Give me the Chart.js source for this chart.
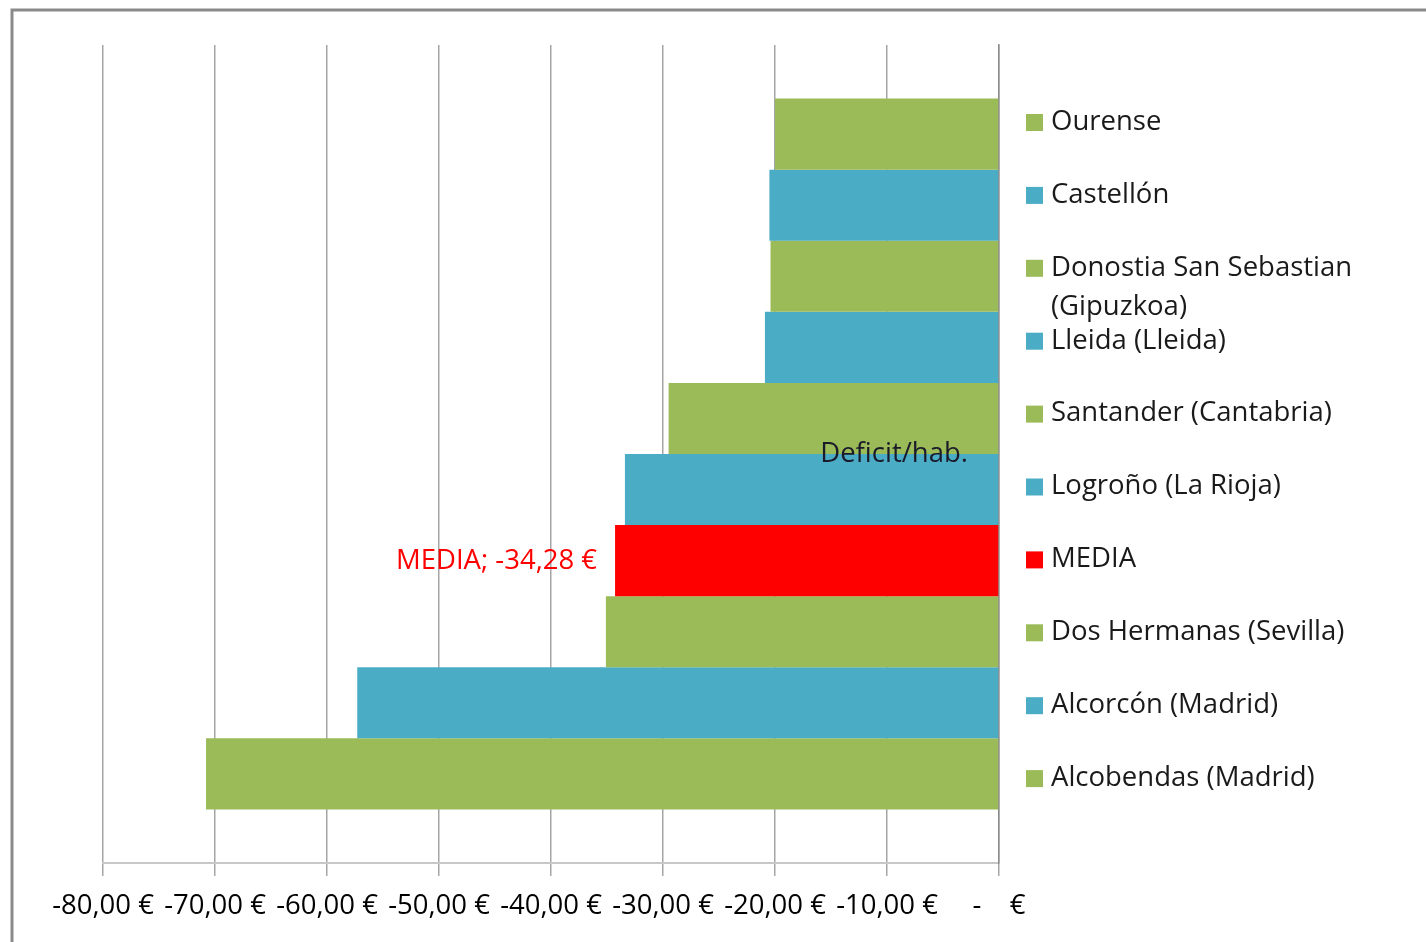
<!DOCTYPE html>
<html>
<head>
<meta charset="utf-8">
<script src="https://cdn.jsdelivr.net/npm/chart.js@4.4.1/dist/chart.umd.min.js"></script>
<style>
  html, body { margin: 0; padding: 0; background: #fff; }
  canvas { display: block; }
</style>
</head>
<body>
<canvas id="myGraphic" width="1426" height="942"></canvas>
<script>
// Datos del gráfico (déficit por habitante, en euros)
var ciudades = ['Ourense', 'Castellón', 'Donostia San Sebastian\n(Gipuzkoa)', 'Lleida (Lleida)',
    'Santander (Cantabria)', 'Logroño (La Rioja)', 'MEDIA', 'Dos Hermanas (Sevilla)',
    'Alcorcón (Madrid)', 'Alcobendas (Madrid)'];
var valores = [-20.0, -20.5, -20.4, -20.9, -29.5, -33.4, -34.28, -35.1, -57.3, -70.8];
var colores = ['#9BBB59', '#4BACC6', '#9BBB59', '#4BACC6', '#9BBB59', '#4BACC6', '#FF0000',
    '#9BBB59', '#4BACC6', '#9BBB59'];
var categorias = ['Deficit/hab.'];
var ejeMin = -80, ejeMax = 0, paso = 10;

var fuente = "'Open Sans', 'DejaVu Sans', sans-serif";
var tam = 27.5;

function euros(v) {
    if (v === 0) return '-    €';
    return v.toFixed(2).replace('.', ',') + ' €';
}

// Marco gris alrededor del gráfico
var marco = {
    id: 'marco',
    beforeDraw: function (chart) {
        var c = chart.ctx;
        c.save();
        c.strokeStyle = '#8a8a8a';
        c.lineWidth = 3;
        c.beginPath();
        c.moveTo(12, 942);
        c.lineTo(12, 10);
        c.lineTo(1426, 10);
        c.stroke();
        c.restore();
    }
};

// Leyenda a la derecha, dibujada a mano para permitir dos líneas
var leyenda = {
    id: 'leyenda',
    afterDraw: function (chart) {
        var c = chart.ctx;
        var area = chart.chartArea;
        var y0 = area.top + 77;
        var salto = 72.9;
        c.save();
        c.font = tam + 'px ' + fuente;
        c.textBaseline = 'middle';
        c.textAlign = 'left';
        chart.data.datasets.forEach(function (ds, i) {
            var y = y0 + i * salto;
            c.fillStyle = ds.backgroundColor;
            c.fillRect(area.right + 27, y - 8, 17, 17);
            c.fillStyle = '#1a1a1a';
            ds.label.split('\n').forEach(function (linea, j) {
                c.fillText(linea, area.right + 52, y + j * 39);
            });
        });
        c.restore();
    }
};

// Etiqueta de la barra MEDIA
var etiquetas = {
    id: 'etiquetas',
    afterDatasetsDraw: function (chart) {
        var c = chart.ctx;
        chart.data.datasets.forEach(function (ds, i) {
            if (ds.label !== 'MEDIA') return;
            var bar = chart.getDatasetMeta(i).data[0];
            c.save();
            c.font = tam + 'px ' + fuente;
            c.fillStyle = '#FF0000';
            c.textAlign = 'right';
            c.textBaseline = 'middle';
            c.fillText(ds.label + '; ' + euros(ds.data[0]), bar.x - 18, bar.y + 1);
            c.restore();
        });
    }
};

var myChart = new Chart('myGraphic', {
    type: 'bar',
    data: {
        labels: categorias,
        datasets: ciudades.map(function (nombre, i) {
            return {
                label: nombre,
                data: [valores[i]],
                backgroundColor: colores[i],
                barPercentage: 1,
                categoryPercentage: 0.869
            };
        })
    },
    options: {
        indexAxis: 'y',
        responsive: false,
        animation: false,
        devicePixelRatio: 1,
        layout: {
            padding: { left: 103, right: 427, top: 45, bottom: 5 }
        },
        scales: {
            x: {
                min: ejeMin,
                max: ejeMax,
                ticks: {
                    stepSize: paso,
                    padding: 14,
                    color: '#000',
                    font: { size: tam, family: fuente },
                    maxRotation: 0,
                    autoSkip: false,
                    callback: function (v) { return euros(v); }
                },
                grid: { color: '#a6a6a6', lineWidth: 1.5, tickLength: 13 },
                border: { color: '#c8c8c8', width: 2 }
            },
            y: {
                position: 'right',
                afterFit: function (scale) { scale.width = 0; },
                ticks: {
                    mirror: true,
                    z: 1,
                    padding: -31,
                    color: '#1a1a2a',
                    font: { size: tam, family: fuente }
                },
                grid: { display: false, drawTicks: false },
                border: { color: '#8c8c8c', width: 1.5 }
            }
        },
        plugins: {
            legend: { display: false },
            tooltip: { enabled: false }
        }
    },
    plugins: [marco, etiquetas, leyenda]
});
</script>
</body>
</html>
